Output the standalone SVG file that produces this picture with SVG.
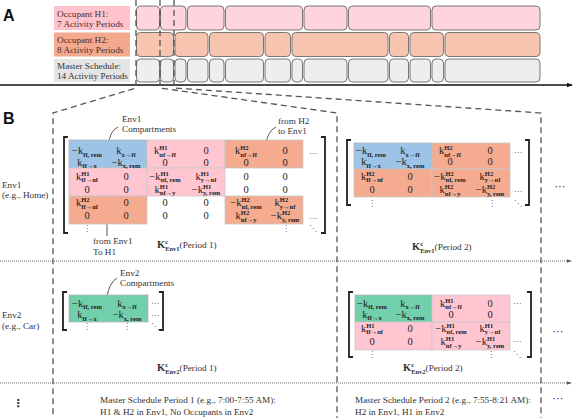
<svg xmlns="http://www.w3.org/2000/svg" width="574" height="418" viewBox="0 0 574 418">
<defs>
<style>
.t{font-family:"Liberation Serif",serif;font-size:9.2px;fill:#333}
.lb{font-family:"Liberation Serif",serif;font-size:9.2px;fill:#4a2c2c}
.m{font-family:"Liberation Serif",serif;font-size:10.5px;fill:#222;text-anchor:middle}
.s{font-size:6.5px;font-weight:700}
.kb{font-weight:700;font-size:10.5px}
.d{font-family:"DejaVu Sans",sans-serif;font-size:8px;fill:#666;text-anchor:middle}
.dd{font-family:"DejaVu Sans",sans-serif;font-size:11px;fill:#333;text-anchor:middle}
.big{font-family:"Liberation Sans",sans-serif;font-size:16px;font-weight:700;fill:#111}
.h1{fill:#FFD4DC;stroke:#777;stroke-width:1}
.h2{fill:#F7C4B0;stroke:#777;stroke-width:1}
.ms{fill:#EEEEEE;stroke:#777;stroke-width:1}
.bl{fill:#9DC3E6;stroke:#b5b5b5;stroke-width:0.8}
.pk{fill:#FFC6D1;stroke:#c9c9c9;stroke-width:0.8}
.sa{fill:#F4AB8F;stroke:#c9c9c9;stroke-width:0.8}
.gr{fill:#72CFAC;stroke:#b5b5b5;stroke-width:0.8}
.br{fill:none;stroke:#222;stroke-width:1.8}
.dash{fill:none;stroke:#555;stroke-width:1.3;stroke-dasharray:6 4}
.dot{fill:none;stroke:#666;stroke-width:1;stroke-dasharray:1 1}
.ann{fill:none;stroke:#444;stroke-width:0.9}
</style>
<marker id="ah" viewBox="0 0 10 10" refX="9" refY="5" markerWidth="6" markerHeight="6" orient="auto" markerUnits="userSpaceOnUse">
<path d="M0,1 L10,5 L0,9 z" fill="#111"/>
</marker>
<marker id="ah2" viewBox="0 0 10 10" refX="9" refY="5" markerWidth="5" markerHeight="5" orient="auto" markerUnits="userSpaceOnUse">
<path d="M0,1 L10,5 L0,9 z" fill="#555"/>
</marker>
</defs>
<rect width="574" height="418" fill="#fff"/>

<text class="big" x="3" y="21">A</text>
<text class="big" x="3" y="124">B</text>

<g id="label-h1">
<rect x="54" y="6" width="76" height="24" fill="#FFC3CE"/>
<text class="lb" x="57" y="17">Occupant H1:</text>
<text class="lb" x="57" y="27">7 Activity Periods</text>
</g>
<g id="label-h2">
<rect x="54" y="32.5" width="76" height="24" fill="#F2A98D"/>
<text class="lb" x="57" y="43">Occupant H2:</text>
<text class="lb" x="57" y="53">8 Activity Periods</text>
</g>
<g id="label-master">
<rect x="54" y="59" width="76" height="23" fill="#E5E5E5"/>
<text class="t" x="57" y="69" fill="#444">Master Schedule:</text>
<text class="t" x="57" y="79" fill="#444">14 Activity Periods</text>
</g>

<g id="timeline-h1">
<rect class="h1" x="136.5" y="6" width="23" height="24" rx="4"/>
<rect class="h1" x="160.5" y="6" width="25.5" height="24" rx="4"/>
<rect class="h1" x="187.5" y="6" width="36.5" height="24" rx="4"/>
<rect class="h1" x="225.5" y="6" width="77" height="24" rx="4"/>
<rect class="h1" x="304" y="6" width="43" height="24" rx="4"/>
<rect class="h1" x="348.5" y="6" width="82" height="24" rx="4"/>
<rect class="h1" x="432" y="6" width="108" height="24" rx="4"/>
</g>
<g id="timeline-h2">
<rect class="h2" x="136.5" y="32.5" width="37" height="24" rx="4"/>
<rect class="h2" x="175" y="32.5" width="33" height="24" rx="4"/>
<rect class="h2" x="209.5" y="32.5" width="54" height="24" rx="4"/>
<rect class="h2" x="265" y="32.5" width="25.5" height="24" rx="4"/>
<rect class="h2" x="292" y="32.5" width="96" height="24" rx="4"/>
<rect class="h2" x="389.5" y="32.5" width="19" height="24" rx="4"/>
<rect class="h2" x="410" y="32.5" width="33.5" height="24" rx="4"/>
<rect class="h2" x="445" y="32.5" width="95" height="24" rx="4"/>
</g>
<g id="timeline-master">
<rect class="ms" x="136.5" y="59" width="23" height="23" rx="4"/>
<rect class="ms" x="160.5" y="59" width="13" height="23" rx="4"/>
<rect class="ms" x="175" y="59" width="11" height="23" rx="4"/>
<rect class="ms" x="187.5" y="59" width="20.5" height="23" rx="4"/>
<rect class="ms" x="209.5" y="59" width="14.5" height="23" rx="4"/>
<rect class="ms" x="225.5" y="59" width="38" height="23" rx="4"/>
<rect class="ms" x="265" y="59" width="25.5" height="23" rx="4"/>
<rect class="ms" x="292" y="59" width="10.5" height="23" rx="4"/>
<rect class="ms" x="304" y="59" width="43" height="23" rx="4"/>
<rect class="ms" x="348.5" y="59" width="39.5" height="23" rx="4"/>
<rect class="ms" x="389.5" y="59" width="19" height="23" rx="4"/>
<rect class="ms" x="410" y="59" width="20.5" height="23" rx="4"/>
<rect class="ms" x="432" y="59" width="11.5" height="23" rx="4"/>
<rect class="ms" x="445" y="59" width="95" height="23" rx="4"/>
</g>

<g id="connectors">
<line x1="0" y1="85" x2="572" y2="85" stroke="#111" stroke-width="1.3" marker-end="url(#ah)"/>
<path class="dash" d="M136,0 V88 L53,113 V418"/>
<path class="dash" d="M160,0 V88 L337,113 V418"/>
<path class="dash" d="M174,0 V88 L541,113 V418"/>
<line class="dot" x1="0" y1="261" x2="571" y2="261" marker-end="url(#ah2)"/>
<line class="dot" x1="0" y1="383" x2="571" y2="383" marker-end="url(#ah2)"/>
<path class="ann" d="M118,127 Q109,131 108,148"/>
<circle cx="108" cy="148.5" r="1.5" fill="#111"/>
<path class="ann" d="M276,127 Q267,131 265,148"/>
<circle cx="265" cy="148.5" r="1.5" fill="#111"/>
<path class="ann" d="M107,191 V236"/>
<circle cx="107" cy="191" r="1.5" fill="#111"/>
<path class="ann" d="M117,278 Q109,283 107,297"/>
<circle cx="107" cy="297.5" r="1.5" fill="#111"/>
</g>

<g id="annotations">
<text class="t" x="122" y="121.5">Env1</text>
<text class="t" x="122" y="132">Compartments</text>
<text class="t" x="278" y="124">from H2</text>
<text class="t" x="278" y="134">to Env1</text>
<text class="t" x="93" y="244">from Env1</text>
<text class="t" x="93" y="254.5">To H1</text>
<text class="t" x="120" y="276">Env2</text>
<text class="t" x="120" y="286">Compartments</text>
</g>

<g id="row-labels">
<text class="t" x="2" y="188">Env1</text>
<text class="t" x="2" y="198">(e.g., Home)</text>
<text class="t" x="2" y="318">Env2</text>
<text class="t" x="2" y="329">(e.g., Car)</text>
<text class="dd" x="18" y="407" font-weight="700">⋮</text>
</g>

<g id="matrix-env1-p1">
<path class="br" d="M68,137 H64 V233 H68"/>
<path class="br" d="M321,137 H325 V233 H321"/>
<rect class="bl" x="69" y="140" width="78" height="28"/>
<rect class="pk" x="147" y="140" width="78" height="28"/>
<rect class="sa" x="225" y="140" width="78" height="28"/>
<rect class="pk" x="69" y="168" width="78" height="28"/>
<rect class="pk" x="147" y="168" width="78" height="28"/>
<rect class="sa" x="69" y="196" width="78" height="28"/>
<rect class="sa" x="225" y="196" width="78" height="28"/>
<text class="m" x="87" y="154">−k<tspan class="s" dy="2.5">ff, rem</tspan></text>
<text class="m" x="126" y="154">k<tspan class="s" dy="2.5">x→ff</tspan></text>
<text class="m" x="165" y="154">k<tspan class="s" dy="-4">H1</tspan><tspan class="s" dx="-8.3" dy="6.5">nf→ff</tspan></text>
<text class="m" x="206" y="154">0</text>
<text class="m" x="246" y="154">k<tspan class="s" dy="-4">H2</tspan><tspan class="s" dx="-8.3" dy="6.5">nf→ff</tspan></text>
<text class="m" x="285" y="154">0</text>
<text class="m" x="87" y="165.5">k<tspan class="s" dy="2.5">ff→x</tspan></text>
<text class="m" x="126" y="165.5">−k<tspan class="s" dy="2.5">x, rem</tspan></text>
<text class="m" x="165" y="165.5">0</text>
<text class="m" x="206" y="165.5">0</text>
<text class="m" x="246" y="165.5">0</text>
<text class="m" x="285" y="165.5">0</text>
<text class="m" x="87" y="179.5">k<tspan class="s" dy="-4">H1</tspan><tspan class="s" dx="-8.3" dy="6.5">ff→nf</tspan></text>
<text class="m" x="126" y="179.5">0</text>
<text class="m" x="165" y="179.5">−k<tspan class="s" dy="-4">H1</tspan><tspan class="s" dx="-8.3" dy="6.5">nf, rem</tspan></text>
<text class="m" x="206" y="179.5">k<tspan class="s" dy="-4">H1</tspan><tspan class="s" dx="-8.3" dy="6.5">y→nf</tspan></text>
<text class="m" x="246" y="179.5">0</text>
<text class="m" x="285" y="179.5">0</text>
<text class="m" x="87" y="192.5">0</text>
<text class="m" x="126" y="192.5">0</text>
<text class="m" x="165" y="192.5">k<tspan class="s" dy="-4">H1</tspan><tspan class="s" dx="-8.3" dy="6.5">nf→y</tspan></text>
<text class="m" x="206" y="192.5">−k<tspan class="s" dy="-4">H1</tspan><tspan class="s" dx="-8.3" dy="6.5">y, rem</tspan></text>
<text class="m" x="246" y="192.5">0</text>
<text class="m" x="285" y="192.5">0</text>
<text class="m" x="87" y="206">k<tspan class="s" dy="-4">H2</tspan><tspan class="s" dx="-8.3" dy="6.5">ff→nf</tspan></text>
<text class="m" x="126" y="206">0</text>
<text class="m" x="165" y="206">0</text>
<text class="m" x="206" y="206">0</text>
<text class="m" x="246" y="206">−k<tspan class="s" dy="-4">H2</tspan><tspan class="s" dx="-8.3" dy="6.5">nf, rem</tspan></text>
<text class="m" x="285" y="206">k<tspan class="s" dy="-4">H2</tspan><tspan class="s" dx="-8.3" dy="6.5">y→nf</tspan></text>
<text class="m" x="87" y="219">0</text>
<text class="m" x="126" y="219">0</text>
<text class="m" x="165" y="219">0</text>
<text class="m" x="206" y="219">0</text>
<text class="m" x="246" y="219">k<tspan class="s" dy="-4">H2</tspan><tspan class="s" dx="-8.3" dy="6.5">nf→y</tspan></text>
<text class="m" x="285" y="219">−k<tspan class="s" dy="-4">H2</tspan><tspan class="s" dx="-8.3" dy="6.5">y, rem</tspan></text>
<text class="d" x="313" y="155.5">⋯</text>
<text class="d" x="313" y="220.5">⋯</text>
<text class="d" x="87" y="231">⋮</text>
<text class="d" x="286" y="231">⋮</text>
<text class="d" x="313" y="231">⋱</text>
<text class="t" x="157" y="248"><tspan class="kb">K</tspan><tspan class="s" dy="-4">c</tspan><tspan class="s" dx="-2.9" dy="6.5">Env1</tspan><tspan dy="-2.5">(Period 1)</tspan></text>
</g>

<g id="matrix-env1-p2">
<path class="br" d="M351,140 H347 V205 H351"/>
<path class="br" d="M525,140 H529 V205 H525"/>
<rect class="bl" x="354" y="143" width="78" height="26"/>
<rect class="sa" x="432" y="143" width="78" height="26"/>
<rect class="sa" x="354" y="169" width="78" height="28"/>
<rect class="sa" x="432" y="169" width="78" height="28"/>
<text class="m" x="371" y="154">−k<tspan class="s" dy="2.5">ff, rem</tspan></text>
<text class="m" x="410" y="154">k<tspan class="s" dy="2.5">x→ff</tspan></text>
<text class="m" x="450" y="154">k<tspan class="s" dy="-4">H2</tspan><tspan class="s" dx="-8.3" dy="6.5">nf→ff</tspan></text>
<text class="m" x="490" y="154">0</text>
<text class="m" x="371" y="165">k<tspan class="s" dy="2.5">ff→x</tspan></text>
<text class="m" x="410" y="165">−k<tspan class="s" dy="2.5">x, rem</tspan></text>
<text class="m" x="450" y="165">0</text>
<text class="m" x="490" y="165">0</text>
<text class="m" x="372" y="179.5">k<tspan class="s" dy="-4">H2</tspan><tspan class="s" dx="-8.3" dy="6.5">ff→nf</tspan></text>
<text class="m" x="410" y="179.5">0</text>
<text class="m" x="450" y="179.5">−k<tspan class="s" dy="-4">H2</tspan><tspan class="s" dx="-8.3" dy="6.5">nf, rem</tspan></text>
<text class="m" x="490" y="179.5">k<tspan class="s" dy="-4">H2</tspan><tspan class="s" dx="-8.3" dy="6.5">y→nf</tspan></text>
<text class="m" x="372" y="193">0</text>
<text class="m" x="410" y="193">0</text>
<text class="m" x="450" y="193">k<tspan class="s" dy="-4">H2</tspan><tspan class="s" dx="-8.3" dy="6.5">nf→y</tspan></text>
<text class="m" x="490" y="193">−k<tspan class="s" dy="-4">H2</tspan><tspan class="s" dx="-8.3" dy="6.5">y, rem</tspan></text>
<text class="d" x="518" y="154.5">⋯</text>
<text class="d" x="518" y="193.5">⋯</text>
<text class="d" x="372" y="205.5">⋮</text>
<text class="d" x="492" y="205.5">⋮</text>
<text class="d" x="518" y="205.5">⋱</text>
<text class="t" x="412" y="250"><tspan class="kb">K</tspan><tspan class="s" dy="-4">c</tspan><tspan class="s" dx="-2.9" dy="6.5">Env1</tspan><tspan dy="-2.5">(Period 2)</tspan></text>
<text class="dd" x="560" y="190">⋯</text>
</g>

<g id="matrix-env2-p1">
<path class="br" d="M67,292 H63 V330 H67"/>
<path class="br" d="M159,292 H163 V330 H159"/>
<rect class="gr" x="69" y="295" width="79" height="27"/>
<text class="m" x="87" y="306.5">−k<tspan class="s" dy="2.5">ff, rem</tspan></text>
<text class="m" x="127" y="306.5">k<tspan class="s" dy="2.5">x→ff</tspan></text>
<text class="m" x="87" y="318">k<tspan class="s" dy="2.5">ff→x</tspan></text>
<text class="m" x="127" y="318">−k<tspan class="s" dy="2.5">x, rem</tspan></text>
<text class="d" x="155" y="305.5">⋯</text>
<text class="d" x="155" y="317.5">⋯</text>
<text class="d" x="87" y="329">⋮</text>
<text class="d" x="127" y="329">⋮</text>
<text class="d" x="155" y="329">⋱</text>
<text class="t" x="157" y="371"><tspan class="kb">K</tspan><tspan class="s" dy="-4">c</tspan><tspan class="s" dx="-2.9" dy="6.5">Env2</tspan><tspan dy="-2.5">(Period 1)</tspan></text>
</g>

<g id="matrix-env2-p2">
<path class="br" d="M353,292 H349 V357 H353"/>
<path class="br" d="M527,292 H531 V357 H527"/>
<rect class="gr" x="355" y="295" width="77" height="27"/>
<rect class="pk" x="432" y="295" width="78" height="27"/>
<rect class="pk" x="355" y="322" width="77" height="28"/>
<rect class="pk" x="432" y="322" width="78" height="28"/>
<text class="m" x="372" y="306.5">−k<tspan class="s" dy="2.5">ff, rem</tspan></text>
<text class="m" x="410" y="306.5">k<tspan class="s" dy="2.5">x→ff</tspan></text>
<text class="m" x="451" y="306.5">k<tspan class="s" dy="-4">H1</tspan><tspan class="s" dx="-8.3" dy="6.5">nf→ff</tspan></text>
<text class="m" x="490" y="306.5">0</text>
<text class="m" x="372" y="317.5">k<tspan class="s" dy="2.5">ff→x</tspan></text>
<text class="m" x="410" y="317.5">−k<tspan class="s" dy="2.5">x, rem</tspan></text>
<text class="m" x="451" y="317.5">0</text>
<text class="m" x="490" y="317.5">0</text>
<text class="m" x="372" y="331.5">k<tspan class="s" dy="-4">H1</tspan><tspan class="s" dx="-8.3" dy="6.5">ff→nf</tspan></text>
<text class="m" x="410" y="331.5">0</text>
<text class="m" x="451" y="331.5">−k<tspan class="s" dy="-4">H1</tspan><tspan class="s" dx="-8.3" dy="6.5">nf, rem</tspan></text>
<text class="m" x="490" y="331.5">k<tspan class="s" dy="-4">H1</tspan><tspan class="s" dx="-8.3" dy="6.5">y→nf</tspan></text>
<text class="m" x="372" y="345">0</text>
<text class="m" x="410" y="345">0</text>
<text class="m" x="451" y="345">k<tspan class="s" dy="-4">H1</tspan><tspan class="s" dx="-8.3" dy="6.5">nf→y</tspan></text>
<text class="m" x="490" y="345">−k<tspan class="s" dy="-4">H1</tspan><tspan class="s" dx="-8.3" dy="6.5">y, rem</tspan></text>
<text class="d" x="517" y="305.5">⋯</text>
<text class="d" x="517" y="344">⋯</text>
<text class="d" x="372" y="356.5">⋮</text>
<text class="d" x="491" y="356.5">⋮</text>
<text class="d" x="517" y="356.5">⋱</text>
<text class="t" x="403" y="371"><tspan class="kb">K</tspan><tspan class="s" dy="-4">c</tspan><tspan class="s" dx="-2.9" dy="6.5">Env2</tspan><tspan dy="-2.5">(Period 2)</tspan></text>
<text class="dd" x="558" y="335">⋯</text>
</g>

<g id="period-captions">
<text class="t" x="100" y="403" font-size="8.4">Master Schedule Period 1 (e.g., 7:00-7:55 AM):</text>
<text class="t" x="100" y="414.5" font-size="8.4">H1 &amp; H2 in Env1, No Occupants in Env2</text>
<text class="t" x="355" y="403" font-size="8.4">Master Schedule Period 2 (e.g., 7:55-8:21 AM):</text>
<text class="t" x="355" y="414.5" font-size="8.4">H2 in Env1, H1 in Env2</text>
<text class="dd" x="558" y="402">⋯</text>
</g>
</svg>
